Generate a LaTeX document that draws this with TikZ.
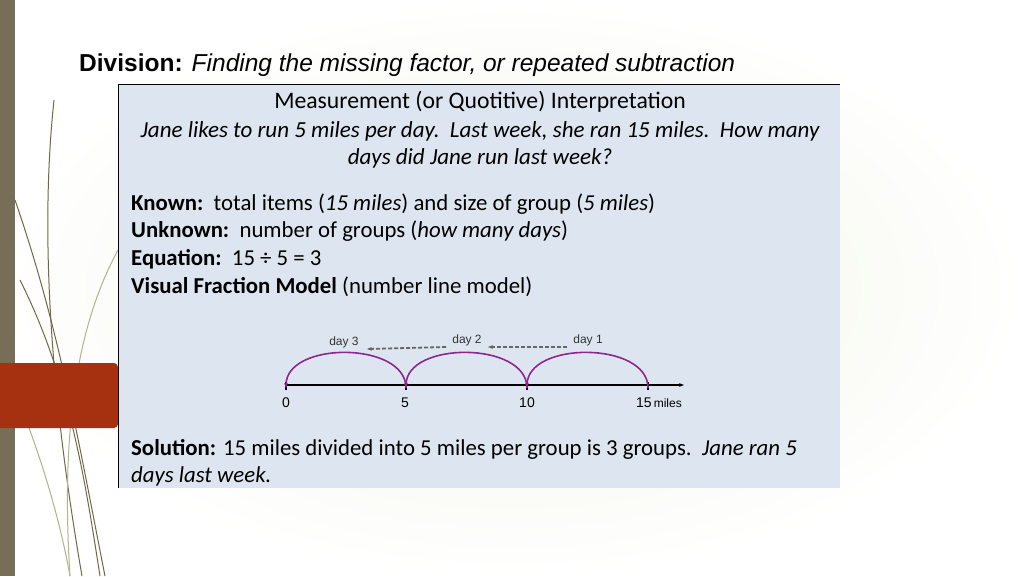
\documentclass[tikz,border=0pt]{standalone}
\usepackage{fontspec}
\setmainfont{Carlito}
\newfontfamily\arial{Liberation Sans}
\usetikzlibrary{arrows.meta}
\definecolor{bgA}{RGB}{240,244,226}
\definecolor{bgB}{RGB}{224,232,196}
\definecolor{strip}{RGB}{118,110,86}
\definecolor{redbox}{RGB}{166,49,17}
\definecolor{panel}{RGB}{221,230,240}
\definecolor{grassc}{RGB}{110,105,70}
\definecolor{grassl}{RGB}{175,180,140}
\definecolor{arcc}{RGB}{140,40,140}
\begin{document}
\begin{tikzpicture}[x=1pt,y=-1pt,
  body/.style={anchor=base west,inner sep=0,font=\fontsize{22.8}{26}\selectfont},
  arc/.style={draw=arcc,line width=1.6pt,-{Stealth[length=5pt]}},
  tick/.style={line width=2.5pt},
  num/.style={anchor=base,inner sep=0,font=\arial\fontsize{14}{16}\selectfont},
  dayl/.style={anchor=base,inner sep=0,font=\arial\fontsize{12}{14}\selectfont,text=black!80},
  dasharr/.style={draw=gray!80!black,line width=1.8pt,dash pattern=on 4pt off 2pt,-{Stealth[length=5pt]}},
  grass/.style={draw=grassc,line width=1pt}]
\useasboundingbox (0,0) rectangle (1024,576);
\shade[left color=bgB,right color=bgB,inner color=bgA,shading=radial] (0,0) rectangle (1024,576);
\fill[strip] (0,0) rectangle (15,576);
\draw[grass] (54,100) .. controls (38,250) and (55,420) .. (82,576);
\draw[grass] (15,200) .. controls (60,330) and (80,450) .. (105,576);
\draw[grass] (20,280) .. controls (70,380) and (85,480) .. (100,576);
\draw[grass,draw=grassl] (118,250) .. controls (80,320) and (60,420) .. (70,576);
\draw[grass,draw=grassl] (10,380) .. controls (40,450) and (60,520) .. (70,576);
\fill[redbox,rounded corners=4pt] (-5,363) rectangle (118,428);
\fill[panel] (118,84) rectangle (840,488);
\draw[line width=0.8pt] (118,488) -- (118,84) -- (840,84);
\node[anchor=base west,inner sep=0,font=\arial\fontsize{24.5}{28}\selectfont] (title) at (79,71) {\textbf{Division:} \textit{Finding the missing factor, or repeated subtraction}};
\node[anchor=base,inner sep=0,font=\fontsize{23.7}{27}\selectfont] (h) at (480,108) {Measurement (or Quotitive) Interpretation};
\node[anchor=base,inner sep=0,font=\fontsize{23}{26}\selectfont\itshape] (p1) at (480,137) {Jane likes to run 5 miles per day.\ \ Last week, she ran 15 miles.\ \ How many};
\node[anchor=base,inner sep=0,font=\fontsize{23}{26}\selectfont\itshape] (p2) at (480,164) {days did Jane run last week?};
\node[body] (k) at (131,210) {\textbf{Known:}\ \ total items (\textit{15 miles}) and size of group (\textit{5 miles})};
\node[body] (u) at (131,237) {\textbf{Unknown:}\ \ number of groups (\textit{how many days})};
\node[body] (e) at (131,265) {\textbf{Equation:}\ \ 15 ÷ 5 = 3};
\node[body] (v) at (131,293) {\textbf{Visual Fraction Model} (number line model)};
\node[body] (s1) at (131,455) {\textbf{Solution:} 15 miles divided into 5 miles per group is 3 groups.\ \ \textit{Jane ran 5}};
\node[body] (s2) at (131,482) {\textit{days last week.}};
\coordinate (L0) at (286,385); \coordinate (L5) at (406,385);
\coordinate (L10) at (527,385); \coordinate (L15) at (648,385);
\coordinate (Lend) at (684,385);
\draw[line width=1.8pt,-{Stealth[length=5pt]}] (L0) -- (Lend);
\foreach \p in {L0,L5,L10,L15} \draw[tick] ([yshift=-5]\p) -- ([yshift=3]\p);
\draw[arc] ([yshift=-3]L15) .. controls +(0,-47) and +(0,-47) .. ([yshift=-3]L10);
\draw[arc] ([yshift=-3]L10) .. controls +(0,-47) and +(0,-47) .. ([yshift=-3]L5);
\draw[arc] ([yshift=-3]L5) .. controls +(0,-47) and +(0,-47) .. ([yshift=-3]L0);
\node[num] (n0) at (286,407) {0};
\node[num] (n5) at (405,407) {5};
\node[num] (n10) at (527,407) {10};
\node[anchor=base west,inner sep=0,font=\arial\fontsize{14}{16}\selectfont] (n15) at (636,407) {15\fontsize{12}{13}\selectfont\,miles};
\node[dayl] (d3) at (344,345) {day 3};
\node[dayl] (d2) at (467,343) {day 2};
\node[dayl] (d1) at (588,343) {day 1};
\draw[dasharr] ([xshift=-6,yshift=-4]d1.base west) -- ([xshift=6,yshift=-4]d2.base east);
\draw[dasharr] ([xshift=-6,yshift=-4]d2.base west) -- ([xshift=8,yshift=-4]d3.base east);
\end{tikzpicture}
\end{document}
